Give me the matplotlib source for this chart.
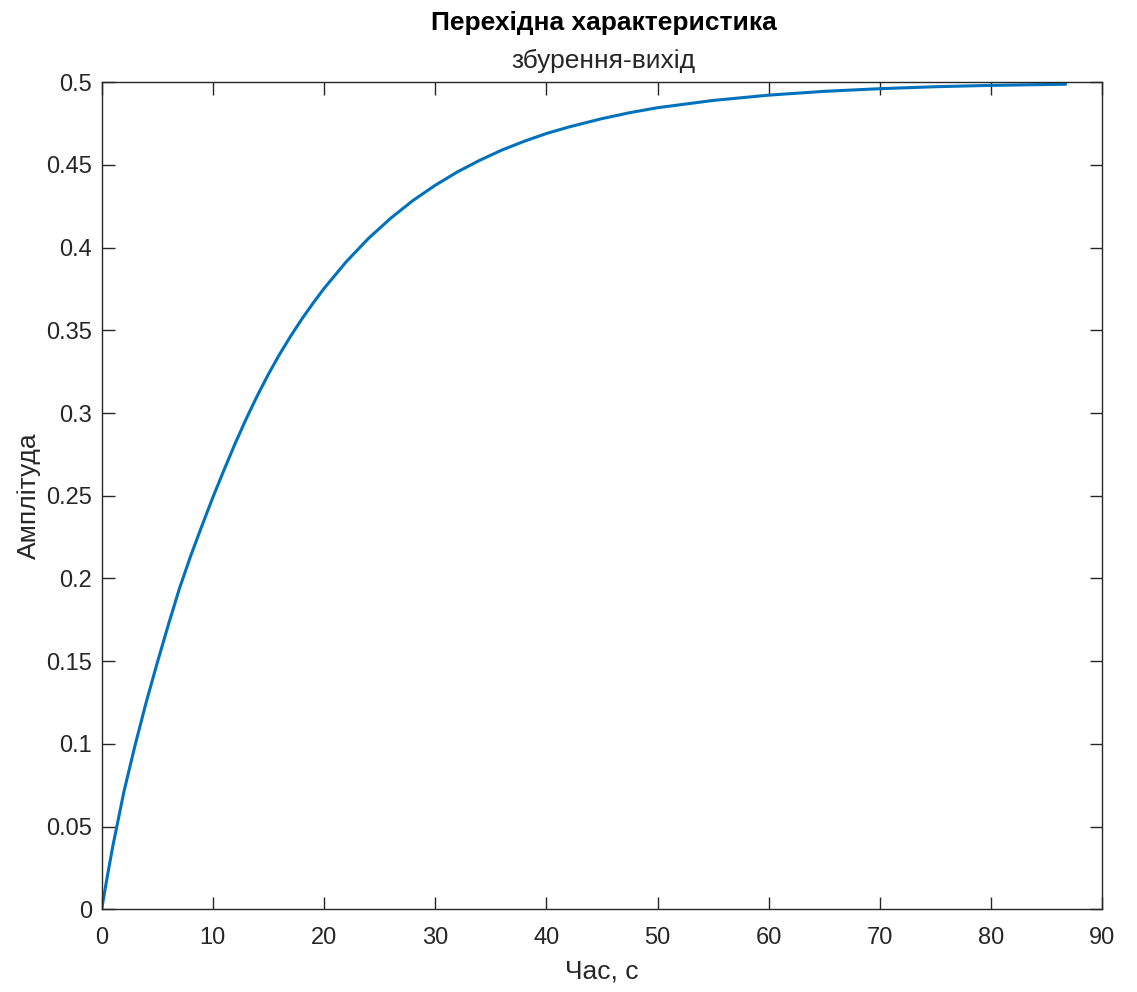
import numpy as np
import matplotlib
matplotlib.use('Agg')
import matplotlib.pyplot as plt
from matplotlib.ticker import FuncFormatter

# step response: disturbance -> output
t_s = [0, 0.5, 1, 2, 3, 4, 5, 6, 7, 8, 9, 10,
       11, 12, 13, 14, 15, 16, 17, 18, 19, 20,
       22, 24, 26, 28, 30, 32, 34, 36, 38, 40, 42, 45, 47.5, 50,
       55, 60, 65, 70, 75, 80, 86.7]
amp = [0.0, 0.0195, 0.038, 0.071, 0.099, 0.125, 0.149, 0.172, 0.194, 0.2135, 0.2315, 0.249,
       0.2655, 0.2815, 0.2965, 0.3105, 0.3235, 0.3355, 0.3465, 0.3568, 0.3663, 0.3753,
       0.3915, 0.4056, 0.4178, 0.4285, 0.4377, 0.4458, 0.4528, 0.4590, 0.4643, 0.4690,
       0.4729, 0.4780, 0.4816, 0.4846,
       0.4890, 0.4922, 0.4945, 0.4961, 0.4973, 0.4981, 0.4988]

title = 'Перехідна характеристика'
subtitle = 'збурення-вихід'
xlab = 'Час, с'
ylab = 'Амплітуда'

plt.rcParams['font.family'] = ['Liberation Sans', 'DejaVu Sans']
axcol = '#262626'

fig = plt.figure(figsize=(11.37, 9.92), dpi=100)
ax = fig.add_axes([0.0894, 0.0834, 0.8801, 0.8337])

ax.plot(t_s, amp, color='#0072BD', lw=2.2, solid_joinstyle='round',
        solid_capstyle='round')

ax.set_xlim(0, 90)
ax.set_ylim(0, 0.5)
ax.set_xticks(np.arange(0, 91, 10))
ax.set_yticks(np.arange(0, 0.501, 0.05))
ax.yaxis.set_major_formatter(FuncFormatter(lambda v, p: '%g' % round(v, 2)))

ax.tick_params(direction='in', length=9, width=1.0, color=axcol,
               labelcolor=axcol, labelsize=17, top=True, right=True)
ax.tick_params(axis='x', pad=13)
ax.tick_params(axis='y', pad=7)
for s in ax.spines.values():
    s.set_color(axcol)
    s.set_linewidth(1.0)

ax.set_xlabel(xlab, fontsize=19, color=axcol, labelpad=7)
ax.set_ylabel(ylab, fontsize=19, color=axcol, labelpad=4)

fig.text(0.531, 0.977, title, ha='center', va='center', fontsize=19,
         fontweight='bold', color='black')
fig.text(0.531, 0.939, subtitle, ha='center', va='center', fontsize=19,
         color=axcol)

fig.savefig('out.png', dpi=100, facecolor='white')
